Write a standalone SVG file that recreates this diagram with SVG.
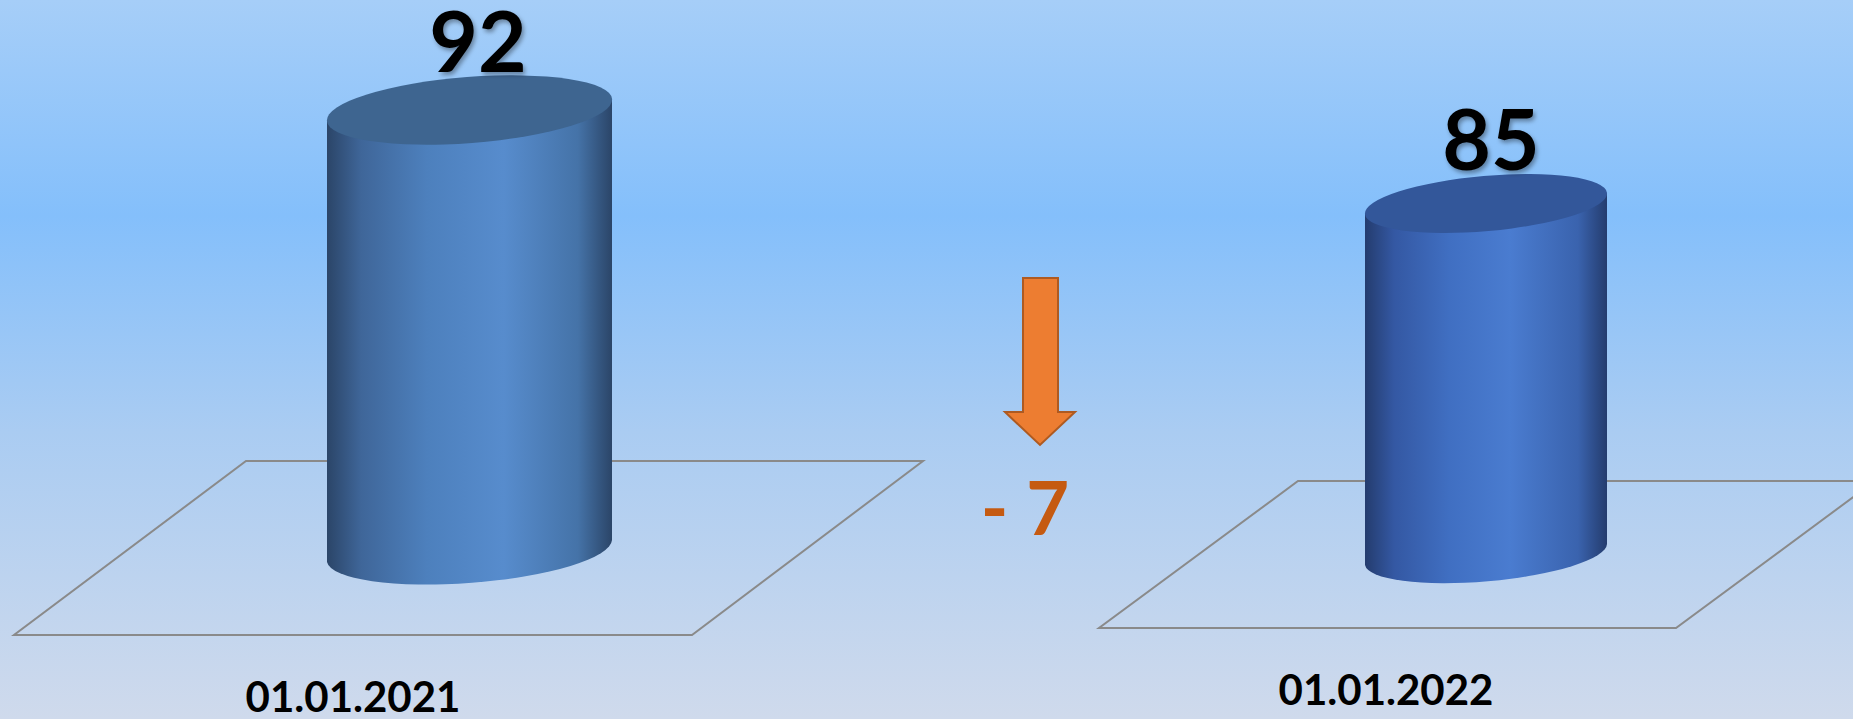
<svg xmlns="http://www.w3.org/2000/svg" width="1853" height="719" viewBox="0 0 1853 719">
<defs>
<linearGradient id="bg" x1="0" y1="0" x2="0" y2="1">
<stop offset="0" stop-color="#A6CEF8"/>
<stop offset="0.3" stop-color="#84BFFB"/>
<stop offset="0.6" stop-color="#AACCF2"/>
<stop offset="1" stop-color="#CFDAEC"/>
</linearGradient>
<linearGradient id="body1" x1="0" y1="0" x2="1" y2="0">
<stop offset="0" stop-color="#2B4568"/>
<stop offset="0.12" stop-color="#3F6699"/>
<stop offset="0.35" stop-color="#4D80BD"/>
<stop offset="0.62" stop-color="#578CCD"/>
<stop offset="0.88" stop-color="#4573A8"/>
<stop offset="1" stop-color="#2B4568"/>
</linearGradient>
<linearGradient id="body2" x1="0" y1="0" x2="1" y2="0">
<stop offset="0" stop-color="#243C6E"/>
<stop offset="0.12" stop-color="#3458A3"/>
<stop offset="0.35" stop-color="#406FC2"/>
<stop offset="0.6" stop-color="#4A7CD0"/>
<stop offset="0.88" stop-color="#3A63AE"/>
<stop offset="1" stop-color="#243C6E"/>
</linearGradient>
<filter id="sh" x="-20%" y="-20%" width="150%" height="150%">
<feDropShadow dx="2" dy="3" stdDeviation="2" flood-color="#000" flood-opacity="0.35"/>
</filter>
</defs>
<style>
.floor{fill:none;stroke:#8A8A8A;stroke-width:2}
.num{font-family:Lato,"Open Sans",sans-serif;font-weight:bold;font-size:84px;fill:#000;text-anchor:middle}
.date{font-family:Lato,"Open Sans",sans-serif;font-weight:bold;font-size:42px;fill:#000;text-anchor:middle}
.delta{font-family:Lato,"Open Sans",sans-serif;font-weight:bold;font-size:74px;fill:#C55A11;text-anchor:middle}
</style>
<rect width="1853" height="719" fill="url(#bg)"/>
<g id="floor1"><polygon class="floor" points="246,461 923,461 692,635 14,635"/></g>
<g id="floor2"><polygon class="floor" points="1298,481 1875,481 1676,628 1099,628"/></g>
<g id="bar1">
<path d="M327,121 L327,562 A143,33 -4.4 0 0 612,540 L612,99 Z" fill="url(#body1)"/>
<ellipse cx="469.5" cy="110" rx="143" ry="33" transform="rotate(-4.4 469.5 110)" fill="#3E6590"/>
<text class="num" x="478" y="72" filter="url(#sh)">92</text>
</g>
<g id="bar2">
<path d="M1365,214 L1365,565 A121.5,27.6 -5 0 0 1607,544 L1607,193 Z" fill="url(#body2)"/>
<ellipse cx="1486" cy="203.5" rx="121.5" ry="27.6" transform="rotate(-5 1486 203.5)" fill="#33579A"/>
<text class="num" x="1491" y="170" filter="url(#sh)">85</text>
</g>
<g id="change">
<polygon points="1023,278 1058,278 1058,412 1075,412 1040,445 1005,412 1023,412" fill="#ED7D31" stroke="#AE5A21" stroke-width="2"/>
<text class="delta" x="1025" y="535">- 7</text>
</g>
<g id="labels">
<text class="date" x="353" y="712">01.01.2021</text>
<text class="date" x="1386" y="705">01.01.2022</text>
</g>
</svg>
